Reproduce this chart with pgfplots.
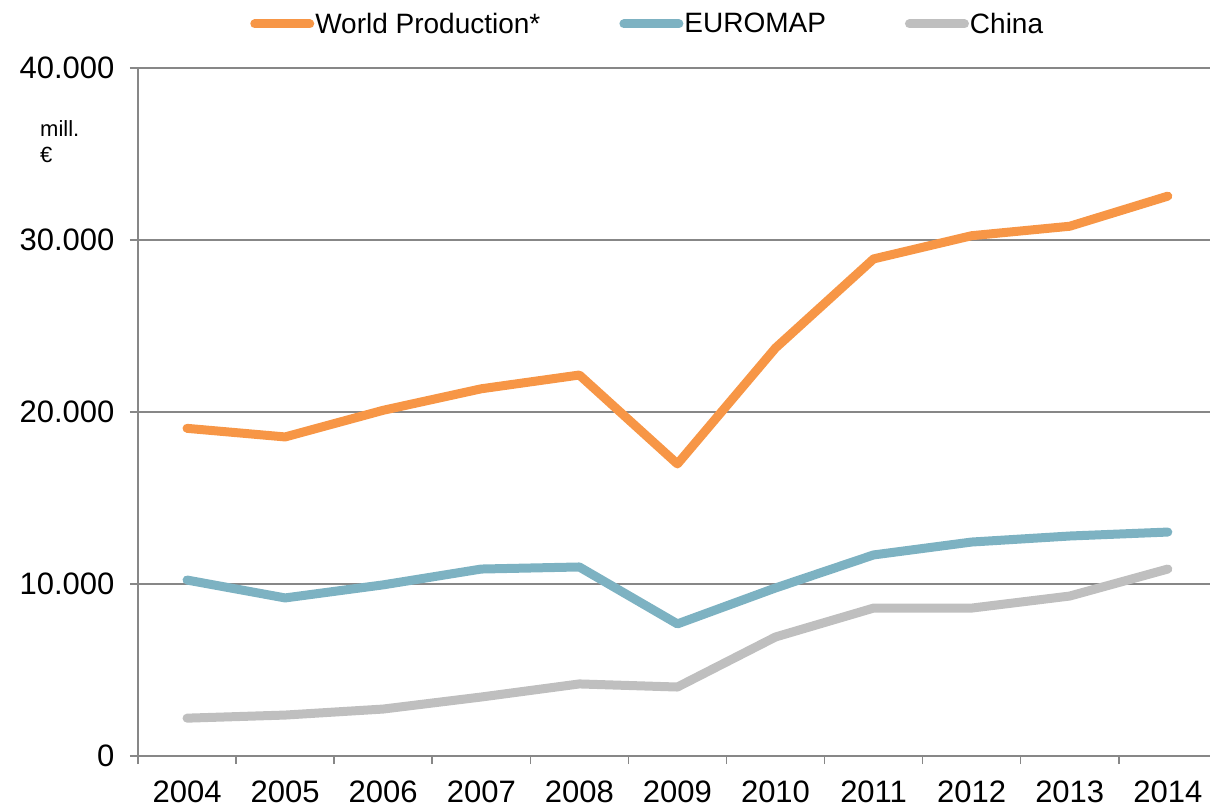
\documentclass[border=0pt]{standalone}
\usepackage{fontspec}
\setmainfont{Liberation Sans}
\usepackage{pgfplots}
\pgfplotsset{compat=1.18}
\definecolor{worldc}{HTML}{F79646}
\definecolor{euroc}{HTML}{7DB2C2}
\definecolor{chinac}{HTML}{BFBFBF}
\definecolor{axc}{HTML}{878787}
\begin{document}
\begin{tikzpicture}
\path[use as bounding box] (-138pt,-51pt) rectangle (1072pt,756pt);
\begin{axis}[
  at={(0,0)}, anchor=south west,
  scale only axis, width=1072pt, height=688pt,
  xmin=-0.5, xmax=10.43, ymin=0, ymax=40000,
  axis x line*=bottom, axis y line*=left,
  axis line style={draw=axc, line width=1.5pt},
  xtick={0,...,10},
  xticklabels={2004,2005,2006,2007,2008,2009,2010,2011,2012,2013,2014},
  minor xtick={-0.5,0.5,...,9.5},
  ytick={0,10000,20000,30000,40000},
  tick align=outside,
  major tick length=8pt, minor tick length=8pt,
  major x tick style={draw=none},
  minor x tick style={draw=axc, line width=1.5pt},
  major y tick style={draw=axc, line width=1.5pt},
  ymajorgrids, major grid style={draw=axc, line width=1.5pt},
  scaled ticks=false,
  /pgf/number format/.cd, 1000 sep={.}, assume math mode=true, /pgfplots/.cd,
  tick label style={font=\fontsize{31}{37}\selectfont},
  xticklabel style={yshift=-13pt},
  yticklabel style={xshift=-12pt},
  legend columns=3,
  legend style={draw=none, fill=none, at={(0.475,1.064)}, anchor=center,
    font=\fontsize{28}{34}\selectfont,
    nodes={inner sep=1pt},
    /tikz/every even column/.append style={column sep=78pt}},
  legend image code/.code={\draw[#1] (0pt,0pt) -- (55pt,0pt);},
  every axis plot/.append style={line width=9pt, line cap=round, line join=round, mark=none},
]
\addplot[worldc] coordinates {(0,19050) (1,18550) (2,20100) (3,21350) (4,22150) (5,16980) (6,23720) (7,28900) (8,30250) (9,30800) (10,32550)};
\addlegendentry{World Production*}
\addplot[euroc] coordinates {(0,10230) (1,9190) (2,9950) (3,10870) (4,10990) (5,7680) (6,9770) (7,11690) (8,12440) (9,12790) (10,13020)};
\addlegendentry{EUROMAP}
\addplot[chinac] coordinates {(0,2200) (1,2380) (2,2730) (3,3430) (4,4190) (5,4010) (6,6920) (7,8600) (8,8600) (9,9300) (10,10870)};
\addlegendentry{China}
\end{axis}
\node[anchor=north west, align=left, font=\fontsize{22}{26}\selectfont, inner sep=0pt] at (-98pt,636pt) {mill.\\€};
\end{tikzpicture}
\end{document}
